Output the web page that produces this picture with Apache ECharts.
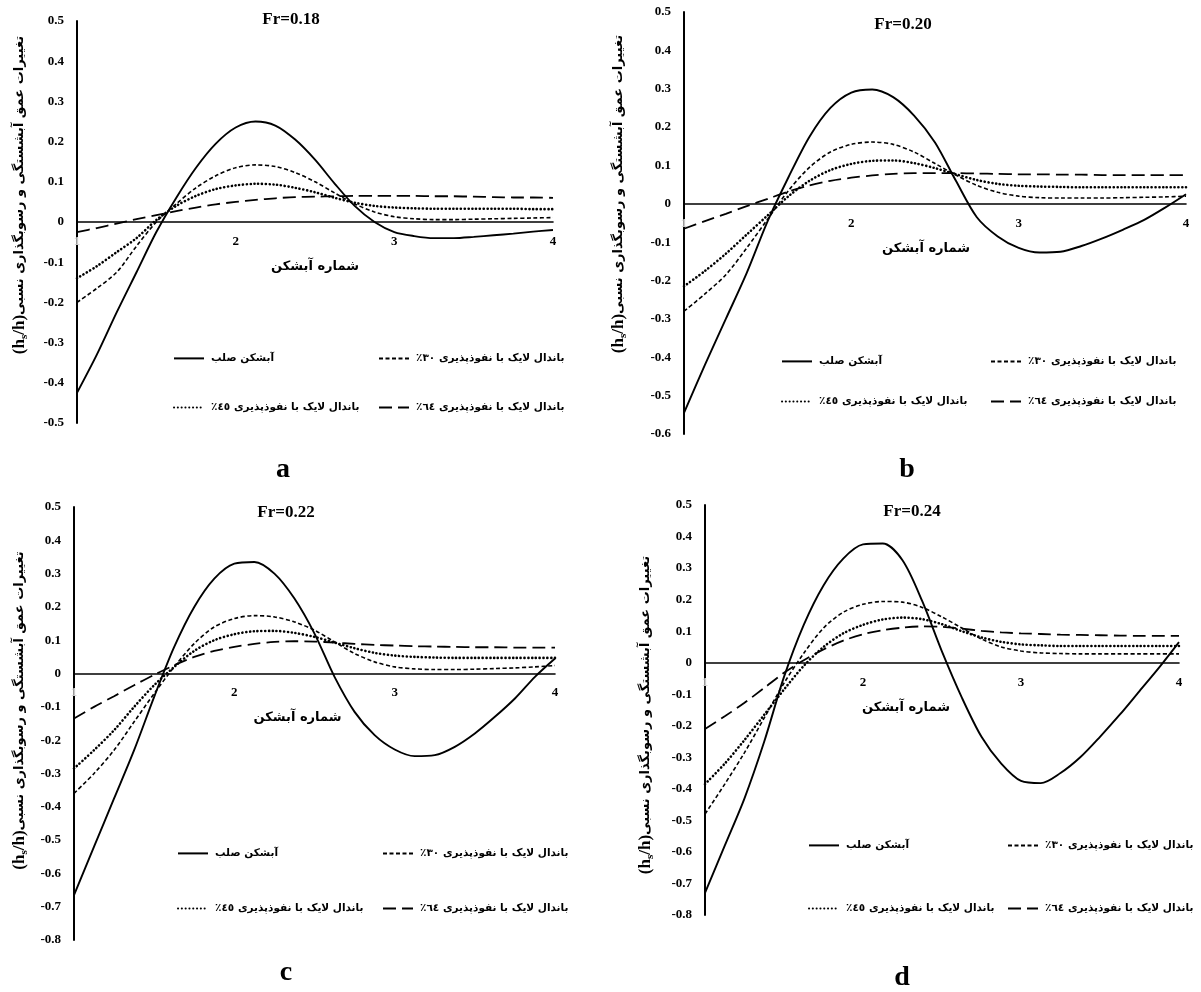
<!DOCTYPE html>
<html><head><meta charset="utf-8">
<script src="https://cdn.jsdelivr.net/npm/echarts@6/dist/echarts.min.js"></script>
<style>html,body{margin:0;padding:0;background:#fff}#c{width:1201px;height:992px}</style>
</head><body><div id="c"></div>
<script>
// ---------- data ----------
const xValues = [1, 1.125, 1.25, 1.375, 1.5, 1.625, 1.75, 1.875, 2, 2.125, 2.25, 2.375, 2.5, 2.625, 2.75, 2.875, 3, 3.125, 3.25, 3.375, 3.5, 3.625, 3.75, 3.875, 4];
const RLM = '\u200F';
const seriesNames = ['آبشکن صلب' + RLM, 'باندال لایک با نفوذپذیری ٣٠٪' + RLM, 'باندال لایک با نفوذپذیری ٤٥٪' + RLM, 'باندال لایک با نفوذپذیری ٦٤٪' + RLM];
const panelTitles = ['Fr=0.18', 'Fr=0.20', 'Fr=0.22', 'Fr=0.24'];
const panelLetters = ['a', 'b', 'c', 'd'];
const yMinValues = [-0.5, -0.6, -0.8, -0.8];
const yMaxValues = [0.5, 0.5, 0.5, 0.5];
const xAxisTitle = 'شماره آبشکن';
const yAxisTitle = 'تغییرات عمق آبشستگی و رسوبگذاری نسبی';

// Fr = 0.18
const solidA  = [-0.425, -0.33, -0.225, -0.125, -0.025, 0.06, 0.135, 0.195, 0.235, 0.25, 0.24, 0.205, 0.155, 0.095, 0.04, 0.0, -0.025, -0.035, -0.04, -0.04, -0.037, -0.033, -0.029, -0.024, -0.02];
const perm30A = [-0.20, -0.165, -0.125, -0.06, 0.0, 0.045, 0.085, 0.115, 0.135, 0.142, 0.138, 0.123, 0.10, 0.072, 0.045, 0.025, 0.013, 0.008, 0.006, 0.006, 0.007, 0.008, 0.009, 0.01, 0.011];
const perm45A = [-0.14, -0.11, -0.075, -0.04, 0.005, 0.04, 0.065, 0.082, 0.091, 0.095, 0.093, 0.085, 0.074, 0.06, 0.048, 0.04, 0.036, 0.034, 0.033, 0.033, 0.033, 0.033, 0.033, 0.032, 0.032];
const perm64A = [-0.025, -0.015, -0.004, 0.007, 0.017, 0.027, 0.036, 0.044, 0.05, 0.055, 0.059, 0.062, 0.063, 0.064, 0.065, 0.065, 0.065, 0.065, 0.064, 0.064, 0.063, 0.062, 0.061, 0.061, 0.06];
// Fr = 0.20
const solidB  = [-0.545, -0.42, -0.30, -0.18, -0.045, 0.07, 0.175, 0.25, 0.29, 0.298, 0.278, 0.23, 0.16, 0.06, -0.035, -0.085, -0.115, -0.127, -0.125, -0.11, -0.09, -0.067, -0.042, -0.01, 0.025];
const perm30B = [-0.28, -0.235, -0.185, -0.115, -0.04, 0.035, 0.095, 0.135, 0.155, 0.161, 0.155, 0.135, 0.105, 0.075, 0.048, 0.03, 0.02, 0.016, 0.015, 0.015, 0.015, 0.016, 0.017, 0.018, 0.02];
const perm45B = [-0.215, -0.175, -0.13, -0.08, -0.03, 0.02, 0.06, 0.088, 0.104, 0.112, 0.113, 0.106, 0.093, 0.077, 0.062, 0.052, 0.047, 0.045, 0.044, 0.043, 0.043, 0.043, 0.043, 0.043, 0.043];
const perm64B = [-0.065, -0.045, -0.026, -0.006, 0.013, 0.032, 0.048, 0.06, 0.068, 0.074, 0.078, 0.08, 0.08, 0.08, 0.079, 0.078, 0.077, 0.077, 0.076, 0.076, 0.075, 0.075, 0.075, 0.075, 0.075];
// Fr = 0.22
const solidC  = [-0.665, -0.52, -0.375, -0.23, -0.07, 0.08, 0.20, 0.285, 0.33, 0.335, 0.30, 0.225, 0.12, -0.01, -0.115, -0.185, -0.228, -0.248, -0.245, -0.22, -0.18, -0.13, -0.075, -0.01, 0.045];
const perm30C = [-0.36, -0.30, -0.23, -0.145, -0.06, 0.02, 0.09, 0.14, 0.165, 0.174, 0.17, 0.155, 0.13, 0.095, 0.06, 0.035, 0.02, 0.014, 0.012, 0.012, 0.013, 0.015, 0.017, 0.02, 0.024];
const perm45C = [-0.285, -0.23, -0.17, -0.10, -0.035, 0.02, 0.068, 0.10, 0.118, 0.127, 0.128, 0.122, 0.11, 0.093, 0.076, 0.062, 0.054, 0.05, 0.048, 0.047, 0.047, 0.047, 0.047, 0.047, 0.047];
const perm64C = [-0.135, -0.10, -0.068, -0.035, -0.004, 0.025, 0.05, 0.068, 0.08, 0.089, 0.095, 0.097, 0.096, 0.093, 0.089, 0.086, 0.084, 0.082, 0.081, 0.08, 0.079, 0.079, 0.078, 0.078, 0.078];
// Fr = 0.24
const solidD  = [-0.73, -0.58, -0.43, -0.25, -0.045, 0.12, 0.245, 0.33, 0.375, 0.378, 0.325, 0.195, 0.035, -0.11, -0.235, -0.32, -0.375, -0.382, -0.35, -0.30, -0.235, -0.165, -0.09, -0.015, 0.065];
const perm30D = [-0.48, -0.385, -0.285, -0.175, -0.065, 0.03, 0.11, 0.16, 0.185, 0.194, 0.192, 0.175, 0.145, 0.11, 0.075, 0.05, 0.037, 0.031, 0.029, 0.028, 0.028, 0.028, 0.028, 0.028, 0.028];
const perm45D = [-0.385, -0.32, -0.245, -0.165, -0.085, -0.01, 0.05, 0.093, 0.12, 0.137, 0.143, 0.138, 0.122, 0.10, 0.08, 0.066, 0.058, 0.055, 0.053, 0.053, 0.053, 0.053, 0.053, 0.053, 0.053];
const perm64D = [-0.21, -0.17, -0.127, -0.08, -0.032, 0.008, 0.042, 0.07, 0.09, 0.103, 0.111, 0.115, 0.114, 0.108, 0.101, 0.096, 0.093, 0.091, 0.089, 0.088, 0.087, 0.086, 0.085, 0.085, 0.085];

const panelData = [
  [solidA, perm30A, perm45A, perm64A],
  [solidB, perm30B, perm45B, perm64B],
  [solidC, perm30C, perm45C, perm64C],
  [solidD, perm30D, perm45D, perm64D]
];

// ---------- layout / style ----------
const SERIF = '"Liberation Serif", "Times New Roman", serif';
const FA = '"DejaVu Sans", sans-serif';
const grids = [
  {left: 77, top: 21, width: 476, height: 402},
  {left: 684, top: 12, width: 502, height: 422},
  {left: 74, top: 507, width: 481, height: 433},
  {left: 705, top: 505, width: 474, height: 410}
];
const titlePos = [[291, 20], [903, 25], [286, 513], [912, 512]];
const letterPos = [[283, 470], [907, 470], [286, 973], [902, 978]];
const yNamePad = [[0, 0, 0, 54], [0, 0, 0, 58], [0, 0, 0, 26], [0, 10, 0, 0]];
const yNameGap = [47, 55, 44, 49];
const xNamePad = [[0, 0, 0, 0], [0, 18, 0, 0], [0, 34, 0, 0], [0, 72, 0, 0]];
const legendPos = [
  {cols: [168, 373], rows: [355, 404]},
  {cols: [776, 985], rows: [358, 398]},
  {cols: [172, 377], rows: [850, 905]},
  {cols: [803, 1002], rows: [842, 905]}
];
const lineStyles = [
  {color: '#000', width: 1.9, type: 'solid'},
  {color: '#000', width: 1.6, type: [4, 2.5]},
  {color: '#000', width: 2.6, type: [0.1, 3.7], cap: 'round'},
  {color: '#000', width: 1.8, type: [13, 6]}
];

const option = {
  backgroundColor: '#fff',
  animation: false,
  grid: [], xAxis: [], yAxis: [], series: [], legend: [], graphic: []
};

for (let p = 0; p < 4; p++) {
  const g = grids[p];
  option.grid.push(Object.assign({containLabel: false, outerBoundsMode: 'none'}, g));
  // x axis drawn through y = 0
  const zeroOffset = -g.height * (0 - yMinValues[p]) / (yMaxValues[p] - yMinValues[p]);
  option.xAxis.push({
    type: 'value', gridIndex: p, min: 1, max: 4, interval: 1,
    position: 'bottom', offset: zeroOffset,
    name: xAxisTitle, nameLocation: 'middle', nameGap: 38,
    nameTextStyle: {fontFamily: FA, fontWeight: 'bold', fontSize: 13, color: '#000', padding: xNamePad[p]},
    axisLine: {onZero: false, lineStyle: {color: '#000', width: 1.6}},
    axisTick: {show: false}, splitLine: {show: false},
    axisLabel: {
      margin: 13, fontFamily: SERIF, fontWeight: 'bold', fontSize: 13, color: '#000',
      formatter: v => v === 1 ? '{g|1}' : String(v),
      rich: {g: {color: '#c8c8c8', fontFamily: SERIF, fontWeight: 'bold', fontSize: 13}}
    }
  });
  option.yAxis.push({
    type: 'value', gridIndex: p, min: yMinValues[p], max: yMaxValues[p], interval: 0.1,
    name: '{b|(h}{s|s}{b|/h)}{p|' + yAxisTitle + '}',
    nameLocation: 'middle', nameRotate: 90, nameGap: yNameGap[p],
    nameTextStyle: {
      padding: yNamePad[p],
      rich: {
        b: {fontFamily: SERIF, fontWeight: 'bold', fontSize: 17, color: '#000'},
        s: {fontFamily: SERIF, fontWeight: 'bold', fontSize: 11, color: '#000', padding: [9, 0, 0, 0]},
        p: {fontFamily: FA, fontWeight: 'bold', fontSize: 13, color: '#000'}
      }
    },
    axisLine: {show: true, onZero: false, lineStyle: {color: '#000', width: 2}},
    axisTick: {show: false}, splitLine: {show: false},
    axisLabel: {
      margin: 13, fontFamily: SERIF, fontWeight: 'bold', fontSize: 13, color: '#000',
      formatter: v => String(Math.round(v * 10) / 10)
    }
  });
  for (let s = 0; s < 4; s++) {
    const vals = panelData[p][s];
    option.series.push({
      type: 'line', name: seriesNames[s], xAxisIndex: p, yAxisIndex: p,
      data: xValues.map((x, i) => [x, vals[i]]),
      smooth: 0.3, symbol: 'none', showSymbol: false,
      lineStyle: lineStyles[s], z: 3 + (3 - s)
    });
  }
  const lp = legendPos[p];
  const slots = [[0, 0], [1, 0], [0, 1], [1, 1]]; // [col,row] for series 0..3
  for (let s = 0; s < 4; s++) {
    const [c, r] = slots[s];
    option.legend.push({
      left: lp.cols[c], top: lp.rows[r] - 8, orient: 'horizontal',
      data: [seriesNames[s]], selectedMode: false,
      itemWidth: 30, itemHeight: 16, itemGap: 0,
      itemStyle: {opacity: 0},
      textStyle: {fontFamily: FA, fontWeight: 'bold', fontSize: 10.5, color: '#000', padding: [0, 0, 0, 2]}
    });
  }
  option.graphic.push({
    type: 'text', x: titlePos[p][0], y: titlePos[p][1],
    style: {text: panelTitles[p], fill: '#000', font: 'bold 17px ' + SERIF, textAlign: 'center', textVerticalAlign: 'middle'}
  });
  option.graphic.push({
    type: 'text', x: letterPos[p][0], y: letterPos[p][1],
    style: {text: panelLetters[p], fill: '#000', font: 'bold 28px ' + SERIF, textAlign: 'center', textVerticalAlign: 'middle'}
  });
}

const chart = echarts.init(document.getElementById('c'), null, {renderer: 'canvas'});
chart.setOption(option);
</script>
</body></html>
